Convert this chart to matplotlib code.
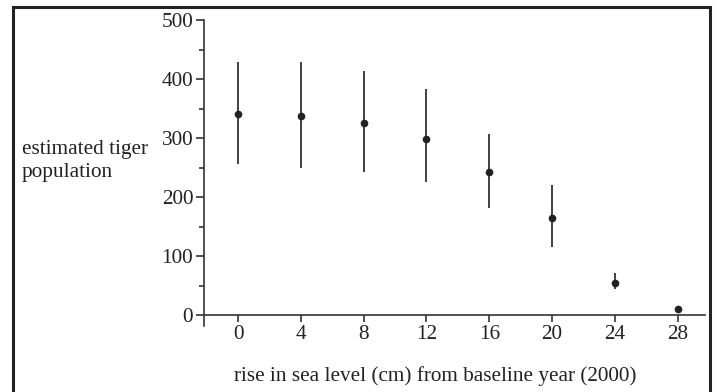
import matplotlib
matplotlib.use('Agg')
import matplotlib.pyplot as plt
from matplotlib.patches import Rectangle
from matplotlib.ticker import MultipleLocator

# data
rise = [0, 4, 8, 12, 16, 20, 24, 28]
pop = [341, 338, 326, 299, 243, 165, 54, 10]
upper = [429, 429, 414, 383, 307, 220, 71, 10]
lower = [257, 250, 243, 225, 182, 115, 44, 10]

xticks = [0, 4, 8, 12, 16, 20, 24, 28]
yticks = [0, 100, 200, 300, 400, 500]

plt.rcParams['font.family'] = ['Liberation Serif', 'DejaVu Serif']
plt.rcParams['font.size'] = 15.3
ink = '#222222'

fig = plt.figure(figsize=(7.17, 3.92), dpi=100)
ax = fig.add_axes([204 / 717, 1 - 326 / 392, 501 / 717, 306 / 392])

err_lo = [p - l for p, l in zip(pop, lower)]
err_hi = [u - p for p, u in zip(pop, upper)]
ax.errorbar(rise, pop, yerr=[err_lo, err_hi], fmt='o', ms=4.5, color=ink,
            ecolor='#333333', elinewidth=1.3, capsize=0)

ax.set_xlim(-2.17, 29.75)
ax.set_ylim(-18, 500)
ax.set_xticks(xticks)
ax.set_yticks(yticks)
ax.yaxis.set_minor_locator(MultipleLocator(50))
ax.spines['top'].set_visible(False)
ax.spines['right'].set_visible(False)
ax.spines['bottom'].set_position(('data', 0))
for s in ['left', 'bottom']:
    ax.spines[s].set_color('#333333')
    ax.spines[s].set_linewidth(1.2)
ax.tick_params(axis='y', which='major', length=5.8, width=1.2, color='#333333',
               labelcolor=ink, pad=2)
ax.tick_params(axis='y', which='minor', length=3.5, width=1.2, color='#333333')
ax.tick_params(axis='x', which='major', length=5, width=1.2, color='#333333',
               labelcolor=ink, pad=2)

fig.text(22 / 717, 1 - 161 / 392, 'estimated tiger\npopulation', ha='left', va='center',
         multialignment='left', color=ink, linespacing=1.3)
fig.text(435 / 717, 1 - 376 / 392, 'rise in sea level (cm) from baseline year (2000)',
         ha='center', va='center', color=ink)

# frame around the figure (bottom edge cut off)
fig.patches.append(Rectangle((13 / 717, -0.05), 697 / 717, 1.05 - 7 / 392,
                             transform=fig.transFigure, fill=False, lw=2.2,
                             edgecolor=ink))

fig.savefig('out.png', dpi=100)
